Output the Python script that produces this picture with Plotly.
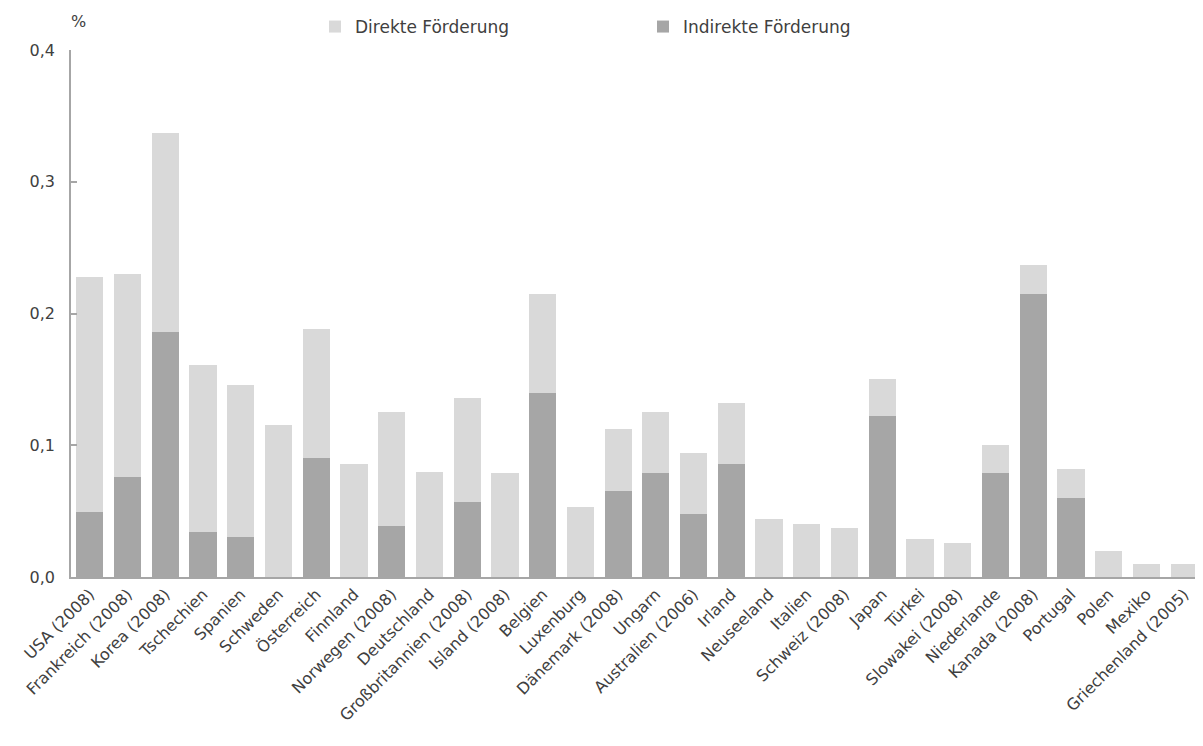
import plotly.graph_objects as go

countries = ["USA (2008)", "Frankreich (2008)", "Korea (2008)", "Tschechien", "Spanien",
             "Schweden", "Österreich", "Finnland", "Norwegen (2008)", "Deutschland",
             "Großbritannien (2008)", "Island (2008)", "Belgien", "Luxenburg", "Dänemark (2008)",
             "Ungarn", "Australien (2006)", "Irland", "Neuseeland", "Italien",
             "Schweiz (2008)", "Japan", "Türkei", "Slowakei (2008)", "Niederlande",
             "Kanada (2008)", "Portugal", "Polen", "Mexiko", "Griechenland (2005)"]

indirekt = [0.049, 0.076, 0.186, 0.034, 0.030,
            0, 0.090, 0, 0.039, 0,
            0.057, 0, 0.140, 0, 0.065,
            0.079, 0.048, 0.086, 0, 0,
            0, 0.122, 0, 0, 0.079,
            0.215, 0.060, 0, 0, 0]

direkt = [0.179, 0.154, 0.151, 0.127, 0.116,
          0.115, 0.098, 0.086, 0.086, 0.080,
          0.079, 0.079, 0.075, 0.053, 0.047,
          0.046, 0.046, 0.046, 0.044, 0.040,
          0.037, 0.028, 0.029, 0.026, 0.021,
          0.022, 0.022, 0.020, 0.010, 0.010]

y_ticks = [0.0, 0.1, 0.2, 0.3, 0.4]

FONT = "DejaVu Sans"
TXT = "#404040"

# page has 8px body margin; figure occupies page x 8..1203, y 8..746
W, H = 1195, 738
L, R, T, B = 63, 0, 42, 169
PW, PH = W - L - R, H - T - B

fig = go.Figure()
fig.add_trace(go.Bar(x=countries, y=indirekt, name="Indirekte Förderung",
                     marker=dict(color="#a6a6a6", line=dict(width=0))))
fig.add_trace(go.Bar(x=countries, y=direkt, name="Direkte Förderung",
                     marker=dict(color="#d9d9d9", line=dict(width=0))))

fig.update_layout(
    width=W, height=H,
    barmode="stack", bargap=0.28,
    separators=",.",
    plot_bgcolor="white", paper_bgcolor="white",
    margin=dict(l=L, r=R, t=T, b=B, autoexpand=False),
    font=dict(family=FONT, color=TXT, size=15),
    legend=dict(orientation="h", traceorder="reversed",
                x=(315 - 8 - L) / PW, y=1 + (T - 19) / PH, xanchor="left", yanchor="middle",
                entrywidth=283, entrywidthmode="pixels",
                font=dict(size=17, color=TXT), itemclick=False),
    xaxis=dict(tickangle=-45, showline=True, linecolor="#a6a6a6", linewidth=1.5,
               ticks="", tickfont=dict(size=16, color=TXT), showgrid=False),
    yaxis=dict(range=[0, 0.4], tickvals=y_ticks, tickformat=".1f", showline=True,
               linecolor="#a6a6a6", linewidth=1.5, ticks="inside", ticklen=6,
               tickwidth=1.5, tickcolor="#a6a6a6", showgrid=False, zeroline=False,
               ticklabelstandoff=11,
               tickfont=dict(size=16, color=TXT)),
    annotations=[dict(text="%", x=(78 - 8 - L) / PW, y=1 + (T + 8 - 22) / PH,
                      xref="paper", yref="paper", xanchor="center", yanchor="middle",
                      showarrow=False, font=dict(size=16, color=TXT))],
)

fig.write_html("out.html")
